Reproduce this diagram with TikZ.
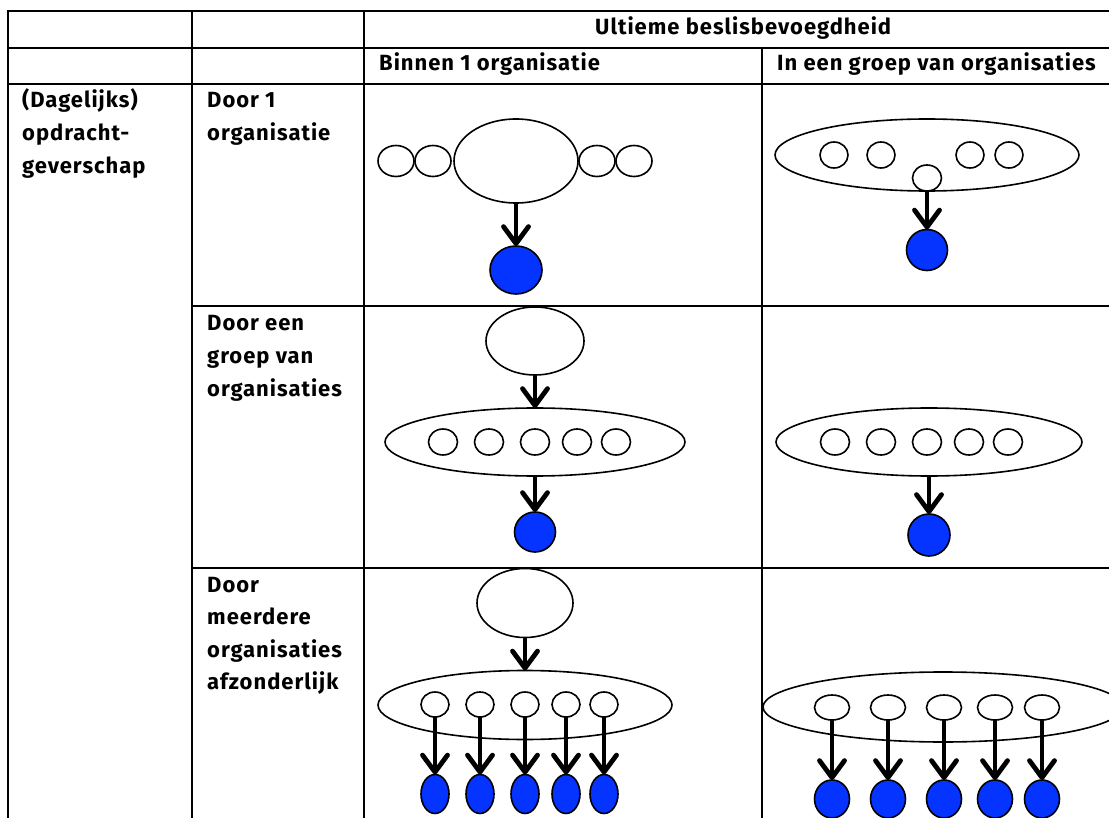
\documentclass[tikz,border=0pt]{standalone}
\usepackage{fontspec}
\newfontfamily\dinfont[LetterSpace=4.5]{Fira Sans}
\usetikzlibrary{shapes.geometric,arrows.meta}
\definecolor{orgblue}{RGB}{5,51,255}
\begin{document}
\begin{tikzpicture}[x=1pt,y=-1pt,
  gridline/.style={line width=2.6pt,line cap=rect},
  org/.style={ellipse,draw,line width=1.6pt,fill=white,inner sep=0pt,outer sep=0pt},
  sz/.style 2 args={minimum width=#1,minimum height=#2},
  blueorg/.style={org,fill=orgblue},
  arr/.style={line width=4.8pt,-{Straight Barb[length=17pt,width=25pt,round]}},
  lbl/.style={font=\dinfont\bfseries\fontsize{22}{26}\selectfont,anchor=base west,inner sep=0pt},
]
\useasboundingbox (0,0) rectangle (1109,818);
\fill[white] (0,0) rectangle (1109,818);
% table grid
\draw[gridline] (8,11) -- (1112,11);
\draw[gridline] (8,48) -- (1112,48);
\draw[gridline] (8,84) -- (1112,84);
\draw[gridline] (192,306) -- (1112,306);
\draw[gridline] (192,568) -- (1112,568);
\draw[gridline] (8,11) -- (8,822);
\draw[gridline] (192,11) -- (192,822);
\draw[gridline] (364,11) -- (364,822);
\draw[gridline] (762,48) -- (762,822);
% texts
\node[lbl] (h1) at (595,35) {Ultieme beslisbevoegdheid};
\node[lbl] (h2) at (379,71) {Binnen 1 organisatie};
\node[lbl] (h3) at (777,71) {In een groep van organisaties};
\node[lbl] (r1a) at (22,108) {(Dagelijks)};
\node[lbl] (r1b) at (22,141) {opdracht-};
\node[lbl] (r1c) at (22,174) {geverschap};
\node[lbl] (s1a) at (207,108) {Door 1};
\node[lbl] (s1b) at (207,141) {organisatie};
\node[lbl] (s2a) at (207,331) {Door een};
\node[lbl] (s2b) at (207,363.5) {groep van};
\node[lbl] (s2c) at (207,396) {organisaties};
\node[lbl] (s3a) at (207,592) {Door};
\node[lbl] (s3b) at (207,624.5) {meerdere};
\node[lbl] (s3c) at (207,657) {organisaties};
\node[lbl] (s3d) at (207,689.5) {afzonderlijk};
% cell A
\node[org,sz={124pt}{84pt}] (A0) at (516,161) {};
\node[org,sz={36pt}{31pt}] (Aa) at (396,161) {};
\node[org,sz={36pt}{31pt}] (Ab) at (433,161) {};
\node[org,sz={36pt}{31pt}] (Ac) at (597,161) {};
\node[org,sz={36pt}{31pt}] (Ad) at (634,161) {};
\node[blueorg,sz={52pt}{48pt}] (A1) at (516,270) {};
\draw[arr] (A0.south) -- (A1.north);
% cell B
\node[org,sz={304pt}{72pt}] (B0) at (927,155) {};
\node[org,sz={28pt}{26pt}] (Ba) at (834,155) {};
\node[org,sz={28pt}{26pt}] (Bb) at (881,155) {};
\node[org,sz={28pt}{26pt}] (Bc) at (970,155) {};
\node[org,sz={28pt}{26pt}] (Bd) at (1009,155) {};
\node[org,sz={29pt}{26pt}] (Bm) at (927,178) {};
\node[blueorg,sz={41pt}{41pt}] (B1) at (927,250) {};
\draw[arr] (Bm.south) -- (B1.north);
% cell C
\node[org,sz={98pt}{68pt}] (C0) at (535,341) {};
\node[org,sz={300pt}{68pt}] (C1) at (535,442) {};
\foreach \n/\x in {a/443,b/489,c/535,d/577,e/616}
  \node[org,sz={29pt}{26pt}] (C\n) at (\x,442) {};
\node[blueorg,sz={41pt}{40pt}] (C2) at (535,532) {};
\draw[arr] (C0.south) -- (C1.north);
\draw[arr] (C1.south) -- (C2.north);
% cell D
\node[org,sz={306pt}{68pt}] (D0) at (929,442) {};
\foreach \n/\x in {a/835,b/881,c/927,d/969,e/1008}
  \node[org,sz={29pt}{26pt}] (D\n) at (\x,442) {};
\node[blueorg,sz={42pt}{42pt}] (D1) at (929,535) {};
\draw[arr] (D0.south) -- (D1.north);
% cell E
\node[org,sz={96pt}{69pt}] (E0) at (525,603) {};
\node[org,sz={294pt}{69pt}] (E1) at (525,705) {};
\draw[arr] (E0.south) -- (E1.north);
\foreach \n/\x in {a/435,b/480,c/525,d/566,e/604}{
  \node[org,sz={28pt}{25pt}] (E\n) at (\x,704.5) {};
  \node[blueorg,sz={28pt}{39pt}] (E\n2) at (\x,794) {};
  \draw[arr] (E\n.south) -- (E\n2.north);
}
% cell F
\node[org,sz={360pt}{70pt}] (F0) at (943,707) {};
\foreach \n/\x in {a/832,b/888,c/944,d/995,e/1042}{
  \node[org,sz={35pt}{25pt}] (F\n) at (\x,707.5) {};
  \node[blueorg,sz={35pt}{38pt}] (F\n2) at (\x,799) {};
  \draw[arr] (F\n.south) -- (F\n2.north);
}
\end{tikzpicture}
\end{document}
